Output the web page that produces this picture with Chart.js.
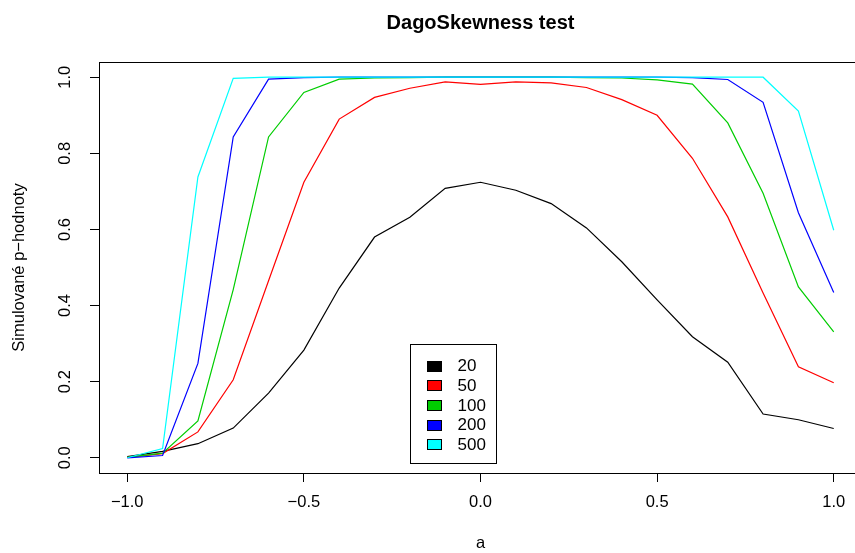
<!DOCTYPE html>
<html>
<head>
<meta charset="utf-8">
<script src="https://cdn.jsdelivr.net/npm/chart.js@4/dist/chart.umd.min.js"></script>
<style>
html, body { margin: 0; padding: 0; overflow: hidden; background: #fff; width: 855px; height: 553px; }
canvas { display: block; }
</style>
</head>
<body>
<canvas id="c" width="870" height="553"></canvas>
<script>
// ---- data ----
const aValues = [-1.0, -0.9, -0.8, -0.7, -0.6, -0.5, -0.4, -0.3, -0.2, -0.1, 0.0, 0.1, 0.2, 0.3, 0.4, 0.5, 0.6, 0.7, 0.8, 0.9, 1.0];
const p20  = [0.003, 0.017, 0.037, 0.078, 0.170, 0.283, 0.446, 0.580, 0.632, 0.708, 0.724, 0.703, 0.668, 0.604, 0.515, 0.415, 0.318, 0.251, 0.115, 0.100, 0.077];
const p50  = [0.001, 0.011, 0.068, 0.205, 0.465, 0.724, 0.890, 0.947, 0.971, 0.988, 0.981, 0.988, 0.985, 0.973, 0.941, 0.900, 0.787, 0.633, 0.433, 0.239, 0.197];
const p100 = [0.001, 0.012, 0.097, 0.442, 0.843, 0.960, 0.995, 0.998, 0.999, 1.000, 1.000, 1.000, 1.000, 0.999, 0.998, 0.993, 0.982, 0.880, 0.695, 0.449, 0.331];
const p200 = [0.000, 0.006, 0.248, 0.843, 0.995, 0.999, 1.000, 1.000, 1.000, 1.000, 1.000, 1.000, 1.000, 1.000, 1.000, 1.000, 0.999, 0.994, 0.934, 0.644, 0.434];
const p500 = [0.000, 0.024, 0.738, 0.997, 1.000, 1.000, 1.000, 1.000, 1.000, 1.000, 1.000, 1.000, 1.000, 1.000, 1.000, 1.000, 1.000, 1.000, 1.000, 0.911, 0.598];
const seriesNames = ['20', '50', '100', '200', '500'];
const seriesData = [p20, p50, p100, p200, p500];
const seriesColors = ['#000000', '#FF0000', '#00CD00', '#0000FF', '#00FFFF'];
const xTicks = [-1.0, -0.5, 0.0, 0.5, 1.0];
const yTicks = [0.0, 0.2, 0.4, 0.6, 0.8, 1.0];
const chartTitle = 'DagoSkewness test';
const xTitle = 'a';
const yTitle = 'Simulované p\u2212hodnoty';

const FONT = "'Liberation Sans', Arial, Helvetica, sans-serif";
const fmt = v => v.toFixed(1).replace('-', '\u2212');

const boxPlugin = {
  id: 'rBox',
  afterDraw(chart) {
    const {ctx, chartArea: a} = chart;
    ctx.save();
    ctx.strokeStyle = '#000';
    ctx.lineWidth = 1;
    ctx.strokeRect(Math.round(a.left) + 0.5, Math.round(a.top) + 0.5, Math.round(a.right - a.left), Math.round(a.bottom - a.top));
    ctx.restore();
  }
};

const legendPlugin = {
  id: 'rLegend',
  afterDraw(chart, args, opts) {
    const {ctx, scales: {x, y}} = chart;
    const left = Math.round(x.getPixelForValue(opts.atX)) + 0.5;
    const top = Math.round(y.getPixelForValue(opts.atY)) + 0.5;
    const n = chart.data.datasets.length;
    ctx.save();
    ctx.fillStyle = '#fff';
    ctx.fillRect(left, top, opts.width, opts.height);
    ctx.strokeStyle = '#000';
    ctx.lineWidth = 1;
    ctx.strokeRect(left, top, opts.width, opts.height);
    ctx.font = opts.fontSize + 'px ' + FONT;
    ctx.textBaseline = 'middle';
    ctx.textAlign = 'left';
    chart.data.datasets.forEach((ds, i) => {
      const cy = top + opts.firstRow + i * opts.rowStep;
      const sx = Math.round(left + opts.swatchX) + 0.5;
      const sy = Math.round(cy - opts.swatchH / 2) + 0.5;
      ctx.fillStyle = ds.borderColor;
      ctx.fillRect(sx, sy, opts.swatchW, opts.swatchH);
      ctx.strokeStyle = '#000';
      ctx.strokeRect(sx, sy, opts.swatchW, opts.swatchH);
      ctx.fillStyle = '#000';
      ctx.fillText(ds.label, left + opts.textX, cy + 1);
    });
    ctx.restore();
  }
};

const datasets = seriesData.map((vals, i) => ({
  label: seriesNames[i],
  data: aValues.map((a, j) => ({x: a, y: vals[j]})),
  borderColor: seriesColors[i],
  backgroundColor: seriesColors[i],
  borderWidth: 1.2,
  pointRadius: 0,
  pointHoverRadius: 0,
  tension: 0,
  fill: false,
  order: seriesData.length - i
}));

new Chart(document.getElementById('c'), {
  type: 'line',
  data: { datasets },
  plugins: [boxPlugin, legendPlugin],
  options: {
    responsive: false,
    animation: false,
    devicePixelRatio: 1,
    events: [],
    layout: { padding: { left: 0, right: 8, top: 0, bottom: 0 } },
    plugins: {
      legend: { display: false },
      tooltip: { enabled: false },
      title: {
        display: true,
        text: chartTitle,
        fullSize: false,
        color: '#000',
        font: { family: FONT, size: 20, weight: 'bold', lineHeight: 1.2 },
        padding: { top: 11, bottom: 27 }
      },
      rLegend: {
        atX: -0.2, atY: 0.3,
        width: 86, height: 119,
        firstRow: 21, rowStep: 19.7,
        swatchX: 16, swatchW: 14, swatchH: 10,
        textX: 47, fontSize: 17
      }
    },
    scales: {
      x: {
        type: 'linear',
        min: -1.08, max: 1.08,
        afterBuildTicks: s => { s.ticks = xTicks.map(v => ({value: v})); },
        afterFit: s => { s.height = 80; },
        border: { display: false },
        grid: { display: true, drawOnChartArea: false, drawTicks: true, tickLength: 9, color: '#000', lineWidth: 1 },
        ticks: { color: '#000', font: { family: FONT, size: 16.5 }, padding: 11, maxRotation: 0, autoSkip: false, callback: v => fmt(v) },
        title: { display: true, text: xTitle, color: '#000', font: { family: FONT, size: 16.5 }, padding: { top: 0, bottom: 0 } }
      },
      y: {
        type: 'linear',
        min: -0.04, max: 1.04,
        afterBuildTicks: s => { s.ticks = yTicks.map(v => ({value: v})); },
        afterFit: s => { s.width = 99; },
        border: { display: false },
        grid: { display: true, drawOnChartArea: false, drawTicks: true, tickLength: 9, color: '#000', lineWidth: 1 },
        ticks: { color: '#000', font: { family: FONT, size: 16.5 }, padding: 13, minRotation: 90, maxRotation: 90, crossAlign: 'center', autoSkip: false, callback: v => fmt(v) },
        title: { display: true, text: yTitle, color: '#000', font: { family: FONT, size: 16.5 }, padding: { top: 10, bottom: 0 } }
      }
    }
  }
});
</script>
</body>
</html>
